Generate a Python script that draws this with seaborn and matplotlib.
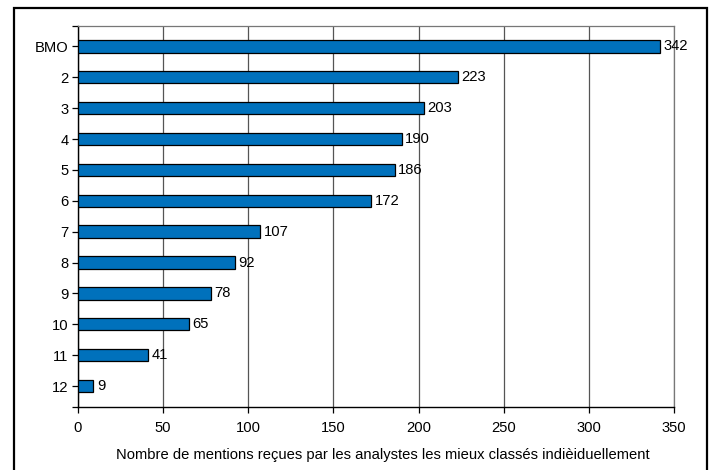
import matplotlib
matplotlib.use("Agg")
import matplotlib.pyplot as plt
import seaborn as sns
import pandas as pd
from matplotlib.patches import Rectangle

categories = ["BMO", "2", "3", "4", "5", "6", "7", "8", "9", "10", "11", "12"]
mentions = [342, 223, 203, 190, 186, 172, 107, 92, 78, 65, 41, 9]
x_ticks = [0, 50, 100, 150, 200, 250, 300, 350]
x_label = "Nombre de mentions reçues par les analystes les mieux classés indièiduellement"

sns.set_theme(style="white")
plt.rcParams["font.family"] = ["Liberation Sans", "DejaVu Sans"]

FS = 10.6

df = pd.DataFrame({"cat": categories, "val": mentions})

fig = plt.figure(figsize=(7.1, 4.7), dpi=100)
ax = fig.add_axes([0.1099, 0.134, 0.8394, 0.8106])

sns.barplot(data=df, y="cat", x="val", orient="h", order=categories,
            color="#0071BC", saturation=1, width=0.4,
            edgecolor="black", linewidth=0.9, ax=ax, zorder=3)

ax.set_xlim(0, 350)
ax.set_ylim(11.68, -0.66)
ax.set_xticks(x_ticks)
ax.set_xticklabels([str(t) for t in x_ticks], fontsize=FS, color="black")
ax.tick_params(axis="y", labelsize=FS, labelcolor="black")
ax.set_yticks([-0.66, 11.68], minor=True)
ax.tick_params(axis="both", which="both", direction="out", length=4,
               width=0.9, color="black", bottom=True, left=True)
ax.tick_params(axis="y", pad=3)
ax.tick_params(axis="x", pad=6)

ax.set_ylabel("")
ax.set_xlabel(x_label, fontsize=FS, color="black", va="center")
ax.xaxis.set_label_coords(0.512, -0.127)

ax.grid(True, axis="x", color="#555555", linewidth=0.9, zorder=0)
ax.grid(False, axis="y")
ax.set_axisbelow(True)

for side in ["left", "bottom"]:
    ax.spines[side].set_color("black")
    ax.spines[side].set_linewidth(1.0)
for side in ["top", "right"]:
    ax.spines[side].set_color("#777777")
    ax.spines[side].set_linewidth(0.9)

for container in ax.containers:
    ax.bar_label(container, labels=[str(v) for v in mentions], padding=2.5,
                 fontsize=FS, color="black")

# outer frame
frame = Rectangle((14 / 710, -0.05), (707 - 14) / 710, (470 - 8) / 470 + 0.05,
                  transform=fig.transFigure, fill=False, edgecolor="black",
                  linewidth=1.6, clip_on=False)
fig.patches.append(frame)

fig.savefig("out.png", dpi=100)
